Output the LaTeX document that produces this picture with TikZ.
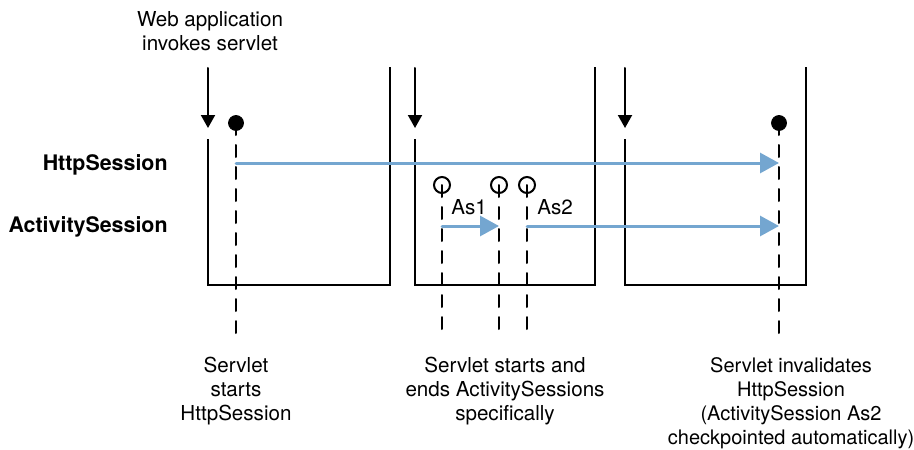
\documentclass[tikz,border=0pt]{standalone}
\usepackage{fontspec}
\setmainfont{TeX Gyre Heros}
\usepackage{tikz}
\usetikzlibrary{arrows.meta}
\usepackage{tkz-euclide}
\definecolor{sessblue}{RGB}{116,166,208}
\tikzset{wall style/.style = {%
  line width = 1pt,
  line cap = rect
 },
 call style/.style = {
  line width = 1pt,
  -{Triangle[length=6.5pt,width=7pt]}
 },
 life style/.style = {
  line width = 1pt,
  dash pattern = on 6pt off 5pt
 },
 flow style/.style = {
  draw = sessblue,
  line width = 1.5pt,
  -{Triangle[length=9.5pt,width=10pt]}
 },
 dot style/.style = {
  draw = black,
  inner sep = 0pt,
  shape = circle,
  minimum size = 7.5pt,
  fill = black
 },
 ring style/.style = {
  draw = black,
  line width = 1pt,
  inner sep = 0pt,
  shape = circle,
  minimum size = 8pt,
  fill = white
 },
 note style/.style = {
  align = center,
  inner sep = 0pt,
  anchor = north,
  font = \fontsize{10.3}{12}\selectfont
 },
 tag style/.style = {
  inner sep = 0pt,
  anchor = base west,
  font = \fontsize{10.3}{12}\selectfont
 },
 side style/.style = {
  inner sep = 0pt,
  anchor = base east,
  font = \fontsize{10.7}{12}\selectfont\bfseries
 }
}

\begin{document}
\begin{tikzpicture}[x=0.5pt,y=-0.5pt]
      \useasboundingbox (0,0) rectangle (914,449);

      \tkzDefPoint(208,140){A1}
      \tkzDefPoint(208,285){B1}
      \tkzDefPoint(390,285){C1}
      \tkzDefPoint(390,68){D1}

      \tkzDefPoint(415,140){A2}
      \tkzDefPoint(415,285){B2}
      \tkzDefPoint(595,285){C2}
      \tkzDefPoint(595,68){D2}

      \tkzDefPoint(625,140){A3}
      \tkzDefPoint(625,285){B3}
      \tkzDefPoint(806,285){C3}
      \tkzDefPoint(806,68){D3}

      \tkzDefPoint(208,68){E1}
      \tkzDefPoint(208,128){F1}
      \tkzDefPoint(415,68){E2}
      \tkzDefPoint(415,128){F2}
      \tkzDefPoint(625,68){E3}
      \tkzDefPoint(625,128){F3}

      \tkzDefPoint(236,338){L1}
      \tkzDefPoint(442,333){L2}
      \tkzDefPoint(499,333){L3}
      \tkzDefPoint(527,333){L4}
      \tkzDefPoint(779,338){L5}

      \tkzDefPoint(236,163){S1}
      \tkzDefPoint(779,163){S2}
      \tkzDefPoint(442,226){T1}
      \tkzDefPoint(499,226){T2}
      \tkzDefPoint(527,226){T3}
      \tkzDefPoint(779,226){T4}

      \node[dot style] (h1) at (236,123) {};
      \node[dot style] (h2) at (779,123) {};
      \node[ring style] (a1) at (442,185) {};
      \node[ring style] (a2) at (499,185) {};
      \node[ring style] (a3) at (527,185) {};

      \tkzDrawSegments[wall style](A1,B1 B1,C1 C1,D1 A2,B2 B2,C2 C2,D2 A3,B3 B3,C3 C3,D3)
      \tkzDrawSegments[call style](E1,F1 E2,F2 E3,F3)
      \tkzDrawSegments[life style](h1,L1 a1,L2 a2,L3 a3,L4 h2,L5)
      \tkzDrawSegments[flow style](S1,S2 T1,T2 T3,T4)

      \node[note style] (web) at (210,11) {Web application\\invokes servlet};
      \node[side style] (http) at (168,170) {HttpSession};
      \node[side style] (act) at (168,232) {ActivitySession};
      \node[tag style] (as1) at (451,214) {As1};
      \node[tag style] (as2) at (537,214) {As2};
      \node[note style] (start) at (236,357) {Servlet\\starts\\HttpSession};
      \node[note style] (ends) at (505,357) {Servlet starts and\\ends ActivitySessions\\specifically};
      \node[note style, font=\fontsize{10}{12}\selectfont] (inval) at (791,357) {Servlet invalidates\\HttpSession\\(ActivitySession As2\\checkpointed automatically)};
\end{tikzpicture}
\end{document}
